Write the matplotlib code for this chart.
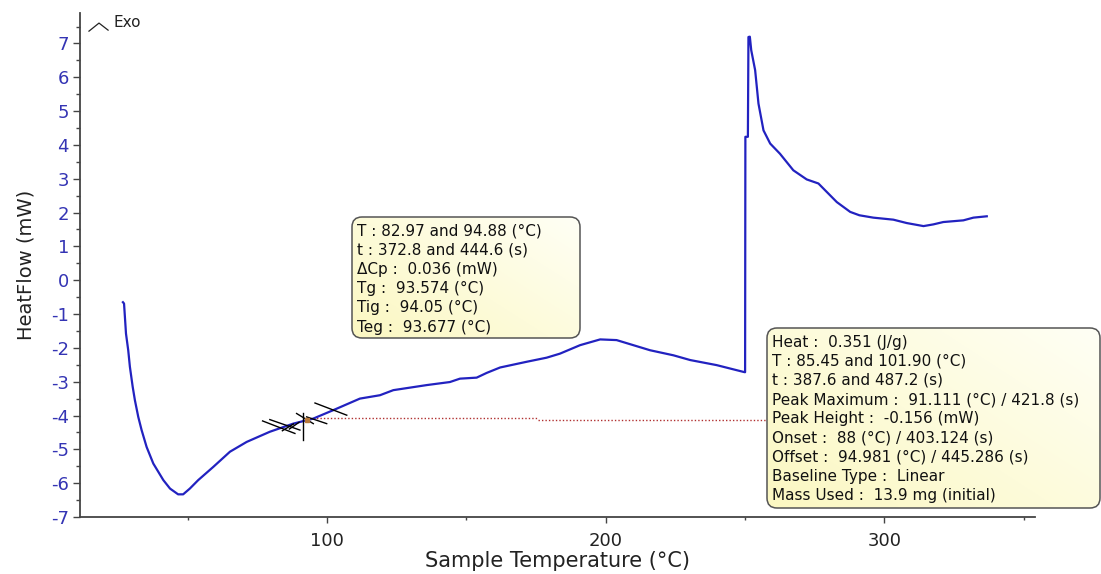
import matplotlib
matplotlib.use("Agg")
import matplotlib.pyplot as plt
import numpy as np
from matplotlib.patches import FancyBboxPatch
from matplotlib.ticker import MultipleLocator

plt.rcParams["axes.unicode_minus"] = False

# DSC heat flow trace (Sample Temperature in degC, HeatFlow in mW)
temp = [26.8, 27.2, 27.9, 28.7, 29.3, 30.3, 31.1, 32.3, 33.5, 35.3, 37.7, 41.3,
        43.7, 46.6, 48.4, 50.8, 53.8, 59.2, 65.2, 71.2, 79.5, 87.9, 95.1, 102.3,
        111.8, 119.0, 123.8, 135.8, 144.1, 147.7, 153.7, 157.3, 162.1, 171.7,
        178.8, 183.6, 190.8, 198.0, 203.9, 208.7, 215.9, 224.3, 230.3, 239.8,
        249.4, 250.0, 250.1, 251.0, 251.2, 251.7, 252.2, 253.6, 254.8, 256.6,
        259.0, 262.5, 267.3, 272.1, 276.3, 279.9, 282.9, 287.7, 291.0, 296.0,
        303.2, 308.0, 314.0, 317.5, 321.1, 328.3, 331.9, 336.7]
heatflow = [-0.65, -0.69, -1.58, -2.07, -2.56, -3.15, -3.55, -4.04, -4.43, -4.93,
            -5.42, -5.91, -6.16, -6.33, -6.33, -6.16, -5.91, -5.52, -5.07, -4.78,
            -4.48, -4.24, -4.09, -3.84, -3.50, -3.40, -3.25, -3.10, -3.01, -2.91,
            -2.88, -2.74, -2.58, -2.41, -2.29, -2.17, -1.92, -1.75, -1.77, -1.89,
            -2.07, -2.22, -2.36, -2.51, -2.71, -2.72, 4.24, 4.24, 7.19, 7.20,
            6.80, 6.21, 5.22, 4.43, 4.04, 3.74, 3.25, 2.98, 2.86, 2.56, 2.31,
            2.02, 1.92, 1.85, 1.79, 1.69, 1.60, 1.65, 1.72, 1.77, 1.85, 1.89]

# integration baseline (two dotted pieces)
base_x1 = [95.0, 175.8]
base_y1 = [-4.06, -4.06]
base_x2 = [175.8, 262.0]
base_y2 = [-4.12, -4.12]

# tangent / cursor marks around the glass transition
cursor_x0 = [76.9, 79.5, 95.7, 91.5, 89.1, 92.7, 84.0, 86.5]
cursor_y0 = [-4.16, -4.12, -3.63, -3.94, -3.94, -4.04, -4.45, -4.40]
cursor_x1 = [88.5, 90.3, 107.1, 91.5, 95.1, 99.9, 88.0, 90.0]
cursor_y1 = [-4.53, -4.43, -3.99, -4.73, -4.24, -4.24, -4.25, -4.20]

glass_lines = ["T : 82.97 and 94.88 (\u00b0C)",
               "t : 372.8 and 444.6 (s)",
               "\u0394Cp :  0.036 (mW)",
               "Tg :  93.574 (\u00b0C)",
               "Tig :  94.05 (\u00b0C)",
               "Teg :  93.677 (\u00b0C)"]
peak_lines = ["Heat :  0.351 (J/g)",
              "T : 85.45 and 101.90 (\u00b0C)",
              "t : 387.6 and 487.2 (s)",
              "Peak Maximum :  91.111 (\u00b0C) / 421.8 (s)",
              "Peak Height :  -0.156 (mW)",
              "Onset :  88 (\u00b0C) / 403.124 (s)",
              "Offset :  94.981 (\u00b0C) / 445.286 (s)",
              "Baseline Type :  Linear",
              "Mass Used :  13.9 mg (initial)"]

W, H = 1101, 574
fig = plt.figure(figsize=(W / 100, H / 100), dpi=100)
ax = fig.add_axes([80 / W, 1 - 517 / H, (1035 - 80) / W, (517 - 13) / H])

ax.plot(temp, heatflow, color="#2222c0", lw=1.6, zorder=3)
ax.plot(base_x1, base_y1, color="#b03030", lw=1, ls=(0, (1, 1.5)), zorder=2)
ax.plot(base_x2, base_y2, color="#b03030", lw=1, ls=(0, (1, 1.5)), zorder=2)
for x0, y0, x1, y1 in zip(cursor_x0, cursor_y0, cursor_x1, cursor_y1):
    ax.plot([x0, x1], [y0, y1], color="black", lw=1, zorder=4)
ax.plot([92.7], [-4.12], "s", ms=3, color="#b87a3c", zorder=5)

ax.set_xlim(11.4, 354)
ax.set_ylim(-7, 7.9)
ax.xaxis.set_major_locator(MultipleLocator(100))
ax.xaxis.set_minor_locator(MultipleLocator(50))
ax.yaxis.set_major_locator(MultipleLocator(1))
ax.yaxis.set_minor_locator(MultipleLocator(0.5))

for s in ["top", "right"]:
    ax.spines[s].set_visible(False)
for s in ["left", "bottom"]:
    ax.spines[s].set_color("#444444")
    ax.spines[s].set_linewidth(1.3)

ax.tick_params(axis="y", which="major", length=5, width=1, color="#444444",
               labelsize=13, labelcolor="#3434b4", pad=3)
ax.tick_params(axis="y", which="minor", length=3, width=1, color="#444444")
ax.tick_params(axis="x", which="major", length=4.5, width=1, color="#444444",
               labelsize=13, labelcolor="#222222", pad=6)
ax.tick_params(axis="x", which="minor", length=2.5, width=1, color="#444444")

ax.set_xlabel("Sample Temperature (\u00b0C)", fontsize=15, color="#222222", labelpad=1)
ax.set_ylabel("HeatFlow (mW)", fontsize=14, color="#222222", labelpad=11)

# exotherm direction marker
ax.plot([0.0094, 0.0199, 0.0294], [0.964, 0.980, 0.966], color="#222222",
        lw=0.9, transform=ax.transAxes, clip_on=False)
ax.text(0.0346, 0.982, "Exo", transform=ax.transAxes, fontsize=11,
        va="center", ha="left", color="#222222")

# overlay in pixel units (origin top-left) for the result boxes
over = fig.add_axes([0, 0, 1, 1], zorder=5)
over.axis("off")
over.patch.set_alpha(0)

yellow = np.array([0.985, 0.97, 0.76])
white = np.array([1.0, 1.0, 0.96])


def info_box(left, top, right, bottom, lines):
    box = FancyBboxPatch((left, top), right - left, bottom - top,
                         boxstyle="round,pad=0,rounding_size=10",
                         facecolor="none", edgecolor="#555555", lw=1.1, zorder=3)
    over.add_patch(box)
    # yellow fading to white towards the top right
    gx, gy = np.meshgrid(np.linspace(0, 1, 60), np.linspace(0, 1, 30))
    t = np.clip(0.55 * gx + 0.45 * (1 - gy), 0, 1)[..., None]
    grad = yellow * (1 - t) + white * t
    im = over.imshow(grad, extent=(left, right, bottom, top), origin="upper",
                     interpolation="bilinear", zorder=2, aspect="auto")
    im.set_clip_path(box)
    for i, line in enumerate(lines):
        over.text(left + 5, top + 14 + 19.2 * i, line, fontsize=11,
                  va="center", ha="left", color="#111111", zorder=4)


info_box(352, 217, 580, 338, glass_lines)
info_box(767, 328, 1100, 508, peak_lines)
over.set_xlim(0, W)
over.set_ylim(H, 0)

fig.savefig("out.png", dpi=100, facecolor="white")
